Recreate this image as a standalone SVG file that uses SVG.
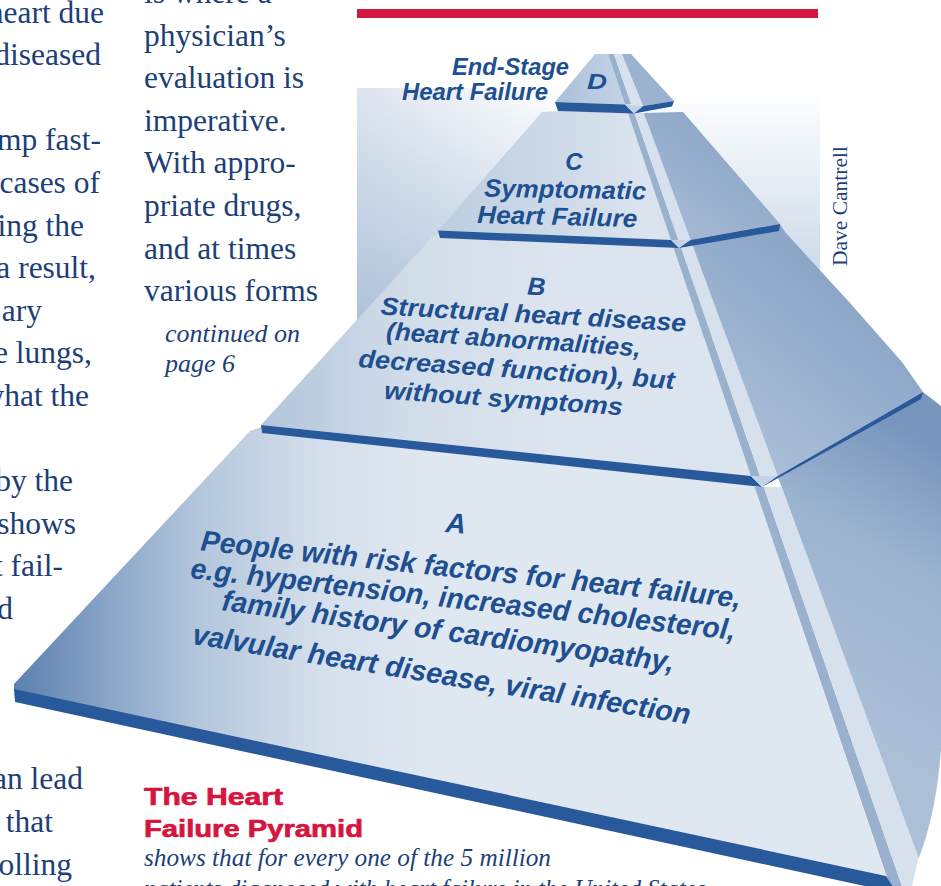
<svg xmlns="http://www.w3.org/2000/svg" width="941" height="886" viewBox="0 0 941 886">
  <defs>
    <style>
      .body { font-family: "Liberation Serif", "Times New Roman", serif; font-size: 31.5px; fill: #1d3f77; }
      .ital { font-family: "Liberation Serif", "Times New Roman", serif; font-style: italic; fill: #1d3f77; }
      .cap { font-family: "Liberation Sans", Arial, sans-serif; font-weight: bold; font-size: 24.5px; fill: #d4153f; stroke: #d4153f; stroke-width: 0.7px; }
      .lbl { font-family: "Liberation Sans", Arial, sans-serif; font-weight: bold; font-style: italic; fill: #1e4f90; }
      .lip { fill: #28599a; }
      .rdark { fill: #9ab1ce; }
      .rlight { fill: #d7e1ed; }
      .bevel { fill: #c3d2e4; }
    </style>
    <linearGradient id="gBg" gradientUnits="userSpaceOnUse" x1="0" y1="88" x2="0" y2="335">
      <stop offset="0" stop-color="#ffffff"/>
      <stop offset="0.25" stop-color="#eef3f8"/>
      <stop offset="1" stop-color="#bccde1"/>
    </linearGradient>
    <linearGradient id="gBgL" gradientUnits="userSpaceOnUse" x1="357" y1="0" x2="560" y2="0">
      <stop offset="0" stop-color="#7896be" stop-opacity="0.25"/>
      <stop offset="1" stop-color="#7896be" stop-opacity="0"/>
    </linearGradient>
    <linearGradient id="gA" gradientUnits="userSpaceOnUse" x1="14" y1="0" x2="420" y2="0">
      <stop offset="0" stop-color="#5d80ae"/>
      <stop offset="0.18" stop-color="#7f9dc3"/>
      <stop offset="0.45" stop-color="#b3c6dc"/>
      <stop offset="0.75" stop-color="#d4dfeb"/>
      <stop offset="1" stop-color="#dfe7f0"/>
    </linearGradient>
    <linearGradient id="gB" gradientUnits="userSpaceOnUse" x1="262" y1="0" x2="560" y2="0">
      <stop offset="0" stop-color="#b2c5dc"/>
      <stop offset="0.5" stop-color="#d2ddea"/>
      <stop offset="1" stop-color="#dce5ef"/>
    </linearGradient>
    <linearGradient id="gC" gradientUnits="userSpaceOnUse" x1="438" y1="0" x2="640" y2="0">
      <stop offset="0" stop-color="#bccde1"/>
      <stop offset="1" stop-color="#dae3ee"/>
    </linearGradient>
    <linearGradient id="gD" gradientUnits="userSpaceOnUse" x1="555" y1="0" x2="625" y2="0">
      <stop offset="0" stop-color="#a9bfd9"/>
      <stop offset="1" stop-color="#c5d4e6"/>
    </linearGradient>
    <linearGradient id="gAR" gradientUnits="userSpaceOnUse" x1="800" y1="700" x2="941" y2="450">
      <stop offset="0" stop-color="#abbfd7"/>
      <stop offset="0.6" stop-color="#9bb3cf"/>
      <stop offset="1" stop-color="#7896bd"/>
    </linearGradient>
    <linearGradient id="gBR" gradientUnits="userSpaceOnUse" x1="760" y1="470" x2="900" y2="300">
      <stop offset="0" stop-color="#abbfd8"/>
      <stop offset="1" stop-color="#87a2c5"/>
    </linearGradient>
    <linearGradient id="gCR" gradientUnits="userSpaceOnUse" x1="690" y1="235" x2="760" y2="140">
      <stop offset="0" stop-color="#a3b8d3"/>
      <stop offset="1" stop-color="#8aa5c7"/>
    </linearGradient>
    <clipPath id="clipA">
      <path d="M0,0 H941 V750 Q936,815 918,860 L912,886 H0 Z"/>
    </clipPath>
  </defs>

  <rect width="941" height="886" fill="#ffffff"/>

  <!-- shaded panel behind the upper tiers -->
  <g id="backdrop">
    <rect x="357" y="88" width="463" height="250" fill="url(#gBg)"/>
    <rect x="357" y="88" width="463" height="250" fill="url(#gBgL)"/>
  </g>

  <rect id="rule" x="357" y="9" width="461" height="9" fill="#d5173f"/>

  <!-- article text, left column (runs off the page edge) -->
  <g id="column-left" class="body" text-anchor="end">
    <text x="104" y="22.5">heart due</text>
    <text x="101" y="65.1">diseased</text>
    <text x="101" y="150.3">mp fast-</text>
    <text x="100" y="192.9">cases of</text>
    <text x="84" y="235.5">ing the</text>
    <text x="96" y="278.1">a result,</text>
    <text x="42" y="320.7">ary</text>
    <text x="92" y="363.3">e lungs,</text>
    <text x="89" y="405.9">what the</text>
    <text x="73" y="491.1">by the</text>
    <text x="76" y="533.7">shows</text>
    <text x="63" y="576.3">t fail-</text>
    <text x="13" y="618.9">d</text>
    <text x="83" y="789.3">an lead</text>
    <text x="53" y="831.9">that</text>
    <text x="72" y="874.5">olling</text>
  </g>

  <!-- article text, middle column -->
  <g id="column-mid">
    <g class="body">
      <text x="144" y="3">is where a</text>
      <text x="144" y="45.5">physician’s</text>
      <text x="144" y="88">evaluation is</text>
      <text x="144" y="130.7">imperative.</text>
      <text x="144" y="173.3">With appro-</text>
      <text x="144" y="216">priate drugs,</text>
      <text x="144" y="258.5">and at times</text>
      <text x="144" y="301">various forms</text>
    </g>
    <g class="ital" font-size="26">
      <text x="165" y="342">continued on</text>
      <text x="165" y="372">page 6</text>
    </g>
  </g>

  <!-- the pyramid, drawn from the base tier upward -->
  <g id="pyramid">
    <g id="tier-a">
      <path d="M250,431 L261,427 L751,476 L886,876 L14,690 L14,684 Z" fill="url(#gA)"/>
      <path class="rdark" d="M754.6,487 L763.8,487 L901.9,886 L889.9,886 Z"/>
      <g clip-path="url(#clipA)">
        <path class="rlight" d="M763.8,487 L781.7,487 L929,886 L901.9,886 Z"/>
        <path d="M778,478 L923,392 L941,406 L941,886 L929,886 L781.7,487 Z" fill="url(#gAR)"/>
      </g>
      <path class="lip" d="M14,689 L886,876 L897,893 L15,702 Z"/>
    </g>

    <g id="tier-b">
      <path d="M432,237.5 L440,233 L671,240 L750.9,476 L261,425 Z" fill="url(#gB)"/>
      <path class="rdark" d="M671,240 L678.4,240 L760,476 L750.9,476 Z"/>
      <path class="rlight" d="M678.4,240 L690.7,240 L777.7,476 L760,476 Z"/>
      <path d="M690.7,240 L780,224 L785,232 L850,303 L902,362 L923,392 L777.7,476 Z" fill="url(#gBR)"/>
      <path class="lip" d="M261,425 L750.9,476 L762,487 L262,433 Z"/>
      <path class="bevel" d="M750.9,476 L777.7,476 L762,487 Z"/>
      <path class="lip" d="M777.7,476 L923,392 L921,399 L762,487 Z"/>
    </g>

    <g id="tier-c">
      <path d="M542,112 L558,111 L628,113 L671,240 L438,230.5 Z" fill="url(#gC)"/>
      <path class="rdark" d="M628,113 L634.4,113 L678.4,240 L671,240 Z"/>
      <path class="rlight" d="M634.4,113 L643.8,113 L690.7,240 L678.4,240 Z"/>
      <path d="M643.8,113 L683,112 L780,224 L690.7,240 Z" fill="url(#gCR)"/>
      <path class="lip" d="M438,230.5 L671,240 L679,248 L440,238 Z"/>
      <path class="bevel" d="M671,240 L690.7,240 L679,248 Z"/>
      <path class="lip" d="M690.7,240 L780,224 L779,231 L679,248 Z"/>
    </g>

    <g id="tier-d">
      <path d="M595,54 L608,54 L625,104.5 L555,102 Z" fill="url(#gD)"/>
      <path class="rdark" d="M608,54 L614,54 L631.3,104.5 L625,104.5 Z"/>
      <path class="rlight" d="M614,54 L622,54 L643.2,106 L631.3,104.5 Z"/>
      <path d="M622,54 L631,54 L674,101 L643.2,106 Z" fill="#9bb3d0"/>
      <path class="lip" d="M555,102 L625,104.5 L634,113.5 L558,111 Z"/>
      <path class="bevel" d="M625,104.5 L643.2,106 L634,113.5 Z"/>
      <path class="lip" d="M643.2,106 L674,101 L672,106.5 L634,113.5 Z"/>
    </g>
  </g>

  <!-- stage labels -->
  <g id="label-d" class="lbl">
    <text x="452" y="75" font-size="23" textLength="117" lengthAdjust="spacingAndGlyphs">End-Stage</text>
    <text x="402" y="100" font-size="23" textLength="146" lengthAdjust="spacingAndGlyphs">Heart Failure</text>
    <text x="587" y="88.5" font-size="22" textLength="20" lengthAdjust="spacingAndGlyphs">D</text>
  </g>

  <g id="label-c" class="lbl" text-anchor="middle">
    <text x="574" y="170" font-size="24">C</text>
    <text x="565" y="198" font-size="25" textLength="162" lengthAdjust="spacingAndGlyphs" transform="rotate(1 565 198)">Symptomatic</text>
    <text x="557" y="225" font-size="25" textLength="160" lengthAdjust="spacingAndGlyphs" transform="rotate(1.5 557 225)">Heart Failure</text>
  </g>

  <g id="label-b" class="lbl" text-anchor="middle">
    <text x="536" y="295" font-size="25" transform="rotate(3 536 295)">B</text>
    <text x="533" y="323" font-size="25" textLength="306" lengthAdjust="spacingAndGlyphs" transform="rotate(3.2 533 323)">Structural heart disease</text>
    <text x="513" y="348" font-size="25" textLength="255" lengthAdjust="spacingAndGlyphs" transform="rotate(3.8 513 348)">(heart abnormalities,</text>
    <text x="516" y="378" font-size="25" textLength="317" lengthAdjust="spacingAndGlyphs" transform="rotate(4 516 378)">decreased function), but</text>
    <text x="503" y="407" font-size="25" textLength="239" lengthAdjust="spacingAndGlyphs" transform="rotate(4 503 407)">without symptoms</text>
  </g>

  <g id="label-a" class="lbl" text-anchor="middle">
    <text x="455" y="533" font-size="28" transform="rotate(5 455 533)">A</text>
    <text x="470" y="579" font-size="29" textLength="543" lengthAdjust="spacingAndGlyphs" transform="rotate(6.1 470 579)">People with risk factors for heart failure,</text>
    <text x="462" y="609" font-size="29" textLength="548" lengthAdjust="spacingAndGlyphs" transform="rotate(6.5 462 609)">e.g. hypertension, increased cholesterol,</text>
    <text x="447" y="641" font-size="29" textLength="456" lengthAdjust="spacingAndGlyphs" transform="rotate(7.8 447 641)">family history of cardiomyopathy,</text>
    <text x="440" y="684" font-size="29" textLength="504" lengthAdjust="spacingAndGlyphs" transform="rotate(9.2 440 684)">valvular heart disease, viral infection</text>
  </g>

  <text id="credit" class="body" style="font-size:21.5px" transform="translate(847,266) rotate(-90)">Dave Cantrell</text>

  <g id="caption">
    <text class="cap" x="144" y="805" textLength="139" lengthAdjust="spacingAndGlyphs">The Heart</text>
    <text class="cap" x="144" y="837" textLength="219" lengthAdjust="spacingAndGlyphs">Failure Pyramid</text>
    <text class="ital" x="144" y="866" font-size="25" textLength="407" lengthAdjust="spacingAndGlyphs">shows that for every one of the 5 million</text>
    <text class="ital" x="144" y="897" font-size="25" textLength="562" lengthAdjust="spacingAndGlyphs">patients diagnosed with heart failure in the United States</text>
  </g>
</svg>
